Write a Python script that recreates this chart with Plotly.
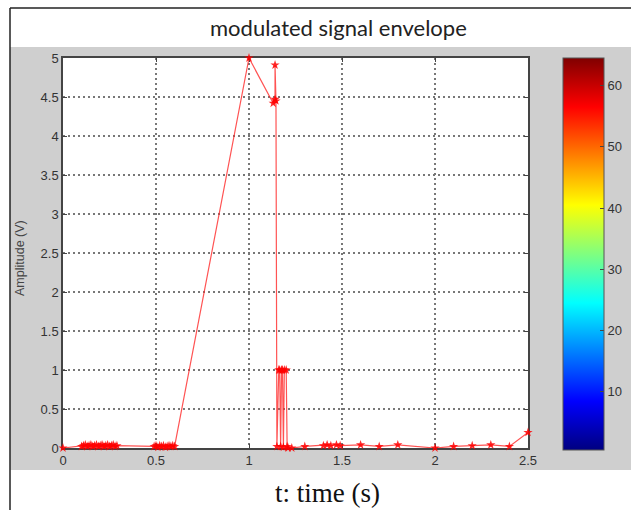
import plotly.graph_objects as go

# ---- data ----
t = [0.0,
     0.10, 0.11, 0.12, 0.13, 0.14, 0.15, 0.16, 0.17, 0.18, 0.19, 0.20,
     0.21, 0.22, 0.23, 0.24, 0.25, 0.26, 0.27, 0.28, 0.29,
     0.49, 0.50, 0.51, 0.52, 0.53, 0.54, 0.55, 0.56, 0.57, 0.58, 0.59, 0.60,
     1.00,
     1.13, 1.14, 1.14, 1.145,
     1.15, 1.16, 1.165, 1.17, 1.175, 1.18, 1.185, 1.19, 1.20, 1.205, 1.21, 1.23,
     1.30, 1.40, 1.42, 1.44, 1.47, 1.49, 1.60, 1.70, 1.80,
     2.00, 2.10, 2.20, 2.30, 2.40, 2.50]
amp = [0.0,
       0.02, 0.03, 0.04, 0.02, 0.03, 0.04, 0.02, 0.03, 0.04, 0.02, 0.03,
       0.04, 0.02, 0.03, 0.04, 0.02, 0.03, 0.04, 0.02, 0.03,
       0.02, 0.03, 0.01, 0.03, 0.02, 0.03, 0.01, 0.02, 0.03, 0.02, 0.03, 0.02,
       5.0,
       4.42, 4.47, 4.91, 4.45,
       0.02, 1.0, 1.0, 0.02, 1.0, 1.0, 0.01, 1.0, 1.0, 0.02, 0.0, 0.0,
       0.02, 0.03, 0.04, 0.03, 0.04, 0.03, 0.04, 0.02, 0.04,
       0.0, 0.02, 0.03, 0.04, 0.02, 0.2]

x_ticks = [0, 0.5, 1, 1.5, 2, 2.5]
x_tick_labels = ["0", "0.5", "1", "1.5", "2", "2.5"]
y_ticks = [0, 0.5, 1, 1.5, 2, 2.5, 3, 3.5, 4, 4.5, 5]
y_tick_labels = ["0", "0.5", "1", "1.5", "2", "2.5", "3", "3.5", "4", "4.5", "5"]
cbar_ticks = [10, 20, 30, 40, 50, 60]
cbar_range = [0.5, 64.5]

title_text = "modulated signal envelope"
xlabel_text = "t: time (s)"
ylabel_text = "Amplitude (V)"

# ---- layout geometry (pixels) ----
W, H = 631, 510
L, R, T, B = 63, 528, 58, 448  # plot area pixel box


def px(x):
    return (x - L) / (R - L)


def py(y):
    return (B - y) / (B - T)


jet = [[0.0, "rgb(0,0,128)"], [0.125, "rgb(0,0,255)"], [0.375, "rgb(0,255,255)"],
       [0.625, "rgb(255,255,0)"], [0.875, "rgb(255,0,0)"], [1.0, "rgb(128,0,0)"]]

tickfont = dict(family="Liberation Sans, Arial", size=13, color="#333")

fig = go.Figure()
fig.add_trace(go.Scatter(
    x=t, y=amp, mode="lines+markers",
    line=dict(color="rgba(255,40,40,0.8)", width=1.2),
    marker=dict(symbol="star", size=7, color="rgba(255,0,0,0.85)", line=dict(width=0)),
    cliponaxis=False, showlegend=False, hoverinfo="x+y"))

# dummy trace carrying the colorbar
fig.add_trace(go.Scatter(
    x=[None], y=[None], mode="markers", showlegend=False, hoverinfo="skip",
    marker=dict(color=[cbar_range[0]], cmin=cbar_range[0], cmax=cbar_range[1],
                colorscale=jet, showscale=True,
                colorbar=dict(x=px(563), xanchor="left", xpad=0, ypad=0,
                              y=1.0, yanchor="top", len=392, lenmode="pixels",
                              thickness=41, thicknessmode="pixels",
                              outlinewidth=1, outlinecolor="#555",
                              tickvals=cbar_ticks, ticks="inside", ticklen=4,
                              tickcolor="#444", tickfont=tickfont))))

shapes = [
    dict(type="rect", xref="paper", yref="paper", x0=px(10), x1=px(W + 2), y0=py(470), y1=py(47),
         fillcolor="#cfcfcf", line=dict(width=0), layer="below"),
    dict(type="rect", xref="paper", yref="paper", x0=0, x1=1, y0=0, y1=1,
         fillcolor="white", line=dict(width=0), layer="below"),
    dict(type="line", xref="paper", yref="paper", x0=px(10), x1=px(10), y0=py(8), y1=py(H + 2),
         line=dict(color="#222", width=1.5)),
    dict(type="line", xref="paper", yref="paper", x0=px(10), x1=px(W + 2), y0=py(8), y1=py(8),
         line=dict(color="#222", width=1.5)),
]

annotations = [
    dict(text=title_text, xref="paper", yref="paper", x=px(338), y=py(27),
         xanchor="center", yanchor="middle", showarrow=False,
         font=dict(family="Lato, Open Sans", size=22, color="#222")),
    dict(text=xlabel_text, xref="paper", yref="paper", x=px(327), y=py(493),
         xanchor="center", yanchor="middle", showarrow=False,
         font=dict(family="Liberation Serif, Times New Roman", size=27, color="#111")),
    dict(text=ylabel_text, xref="paper", yref="paper", x=px(20), y=py(258),
         xanchor="center", yanchor="middle", showarrow=False, textangle=-90,
         font=dict(family="Liberation Sans, Arial", size=12.5, color="#444")),
]

axis_common = dict(showgrid=True, gridcolor="#777", griddash="2px,3px", gridwidth=1.5,
                   showline=True, linecolor="#444", linewidth=1.5, mirror="ticks",
                   ticks="inside", ticklen=4, tickcolor="#444", tickfont=tickfont,
                   zeroline=False, layer="below traces")

fig.update_layout(
    width=W, height=H,
    margin=dict(l=L, r=W - R, t=T, b=H - B, pad=0, autoexpand=False),
    paper_bgcolor="white", plot_bgcolor="white",
    xaxis=dict(range=[0, 2.5], tickvals=x_ticks, ticktext=x_tick_labels, **axis_common),
    yaxis=dict(range=[0, 5], tickvals=y_ticks, ticktext=y_tick_labels, **axis_common),
    shapes=shapes, annotations=annotations, showlegend=False,
)

fig.write_html("out.html")
